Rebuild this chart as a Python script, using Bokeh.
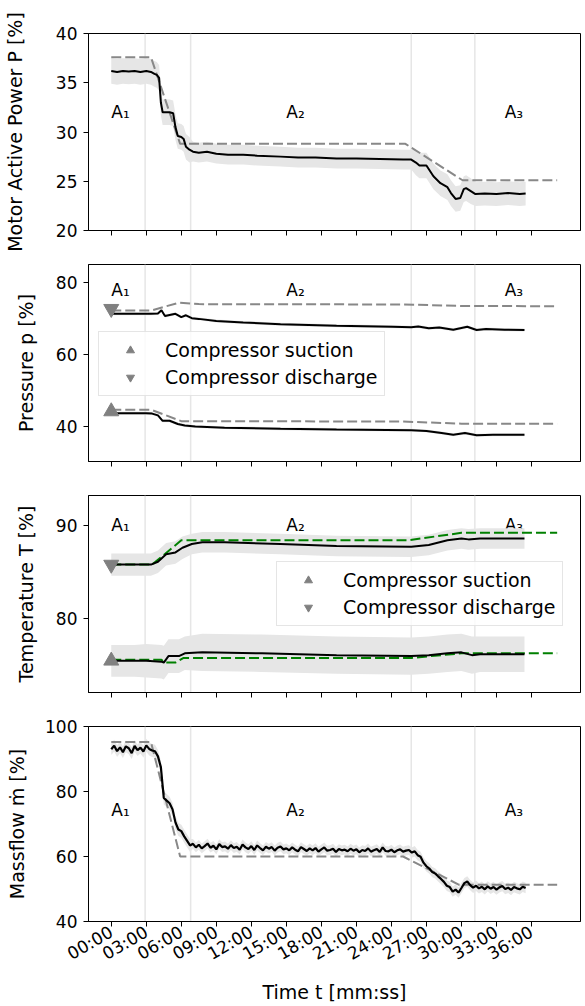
import math
import numpy as np
from bokeh.plotting import figure
from bokeh.layouts import column
from bokeh.models import FixedTicker, Span, Legend, LegendItem, Range1d
from bokeh.embed import file_html
from bokeh.resources import INLINE
from bokeh.core.properties import value

# ---------------- data ----------------
x_ticks = [0, 3, 6, 9, 12, 15, 18, 21, 24, 27, 30, 33, 36]
x_tick_labels = ["00:00", "03:00", "06:00", "09:00", "12:00", "15:00", "18:00",
                 "21:00", "24:00", "27:00", "30:00", "33:00", "36:00"]
phase_bounds = [2.9, 6.8, 25.7, 31.15]          # minutes (light vertical lines)
phase_names = ["A₁", "A₂", "A₃"]
phase_label_t = [0.0, 15.0, 33.7]

# Motor active power P [%]
p_t = [0, 0.5, 1, 1.5, 2, 2.5, 3, 3.4, 3.7, 3.9, 4.1, 4.25, 4.4, 5.0, 5.3, 5.5, 5.7, 6.0, 6.2,
       6.4, 6.7, 7.0, 7.5, 8.2, 9, 10, 11.3, 12.5, 14.5, 16, 17.5, 19.3, 21, 23, 25, 25.7, 26.1,
       26.4, 27.0, 27.6, 28.2, 28.8, 29.1, 29.5, 29.9, 30.2, 30.4, 30.8, 31.2, 32, 33, 34, 35, 35.5]
p_v = [36.2, 36.1, 36.2, 36.15, 36.2, 36.1, 36.2, 36.1, 35.9, 35.8, 35.5, 33.0, 32.0, 32.0, 31.9,
       30.5, 29.6, 29.5, 29.3, 28.5, 28.2, 28.0, 27.9, 28.0, 27.8, 27.7, 27.7, 27.6, 27.5, 27.4,
       27.4, 27.3, 27.3, 27.25, 27.2, 27.2, 26.9, 26.6, 26.6, 25.5, 24.8, 24.4, 23.8, 23.2, 23.3,
       24.2, 24.3, 24.0, 23.7, 23.75, 23.7, 23.8, 23.7, 23.75]
p_std_phase = [1.3, 1.3, 1.0, 1.3, 1.2]
p_ref_t = [0, 3.4, 5.9, 25.2, 30.1, 38.2]
p_ref_v = [37.6, 37.6, 28.8, 28.8, 25.1, 25.1]

# Pressure p [%]
pd_t = [0, 1, 2, 3, 3.4, 4.0, 4.3, 4.6, 5.2, 5.5, 6.0, 6.4, 6.9, 7.5, 9.0, 11.3, 14.5, 19.3,
        24.1, 25.7, 26.3, 27.2, 28.1, 29.3, 30.5, 31.3, 32.1, 33.7, 35.4]
pd_v = [71.2, 71.2, 71.2, 71.2, 71.2, 71.3, 72.2, 70.6, 71.0, 71.2, 70.3, 70.8, 70.0, 69.8,
        69.2, 68.8, 68.3, 67.9, 67.6, 67.5, 67.7, 67.2, 67.4, 66.8, 67.6, 66.7, 67.0, 66.8, 66.7]
pd_ref_t = [0, 3.4, 5.8, 7.5, 25.0, 30.0, 38.2]
pd_ref_v = [72.1, 72.1, 74.3, 73.9, 73.8, 73.4, 73.3]
ps_t = [0, 1, 2, 3, 3.5, 4.0, 4.4, 5.0, 5.7, 6.3, 7.2, 9.7, 14.5, 19.3, 25.7, 27.0, 28.3,
        29.3, 30.3, 31.3, 32.7, 35.4]
ps_v = [43.6, 43.6, 43.6, 43.6, 43.5, 43.0, 41.5, 41.5, 40.6, 40.2, 39.9, 39.6, 39.3, 39.1,
        38.9, 38.7, 38.1, 37.6, 38.1, 37.5, 37.6, 37.6]
ps_ref_t = [0, 3.4, 6.0, 25.0, 30.0, 38.2]
ps_ref_v = [44.6, 44.6, 41.4, 41.3, 40.7, 40.7]
pr_std_phase = [0.4, 0.4, 0.4, 0.4, 0.4]
pr_marker_v = [44.1, 72.6]   # suction, discharge start markers

# Temperature T [%]
td_t = [0, 1, 2, 3, 3.4, 4.0, 4.7, 5.5, 6.1, 6.9, 7.8, 9.7, 14.5, 19.3, 25.7, 27.2, 28.8,
        30.0, 30.6, 31.6, 33, 35.4]
td_v = [85.8, 85.8, 85.8, 85.8, 85.8, 86.1, 86.9, 87.1, 87.6, 88.0, 88.2, 88.2, 88.0, 87.8,
        87.7, 87.9, 88.4, 88.6, 88.5, 88.6, 88.6, 88.6]
td_ref_t = [0, 3.5, 6.0, 25.4, 30.0, 38.2]
td_ref_v = [85.8, 85.8, 88.4, 88.4, 89.2, 89.2]
td_std_phase = [1.2, 1.2, 1.1, 1.1, 1.1]
ts_t = [0, 1, 2, 3, 4.3, 4.5, 4.9, 5.8, 6.3, 7.8, 12.9, 19.3, 25.7, 27.2, 28.8, 30.0, 30.9,
        31.6, 35.4]
ts_v = [75.5, 75.5, 75.5, 75.5, 75.4, 75.3, 76.0, 76.0, 76.3, 76.4, 76.3, 76.1, 76.0, 76.1,
        76.3, 76.4, 76.1, 76.2, 76.2]
ts_ref_t = [0, 4.3, 4.6, 5.5, 6.2, 25.7, 30.0, 38.2]
ts_ref_v = [75.6, 75.6, 75.3, 75.3, 75.8, 75.8, 76.3, 76.3]
ts_std_phase = [1.7, 1.8, 2.0, 2.0, 1.9]
te_marker_v = [75.5, 85.8]

# Massflow m [%]  (sampled every 15 s)
mf_v = [93.0, 94.1, 92.4, 93.6, 92.1, 93.9, 93.3, 91.8, 94.0, 92.7, 93.5, 92.3, 94.2, 93.1, 92.6,
        92.4, 90.8, 87.5, 78.0, 77.2, 76.4, 74.5, 70.5, 68.3, 67.8, 66.2, 64.8, 63.4, 63.9,
        62.8, 63.6, 62.5, 63.2, 64.0, 62.7, 63.3, 62.2, 63.8, 62.9, 63.1, 62.4,
        63.5, 62.6, 63.0, 62.1, 63.7, 62.8, 62.3, 63.2, 62.0, 63.4, 62.6, 61.9, 63.0, 62.4, 62.9,
        61.8, 62.7, 63.1, 62.2, 62.5,
        61.9, 62.8, 62.1, 61.6, 62.9, 62.3, 61.7, 62.5, 61.9, 62.6, 61.5, 62.2, 62.8, 61.8, 62.0,
        62.4, 61.4, 62.3, 61.9, 62.1,
        61.6, 62.4, 61.8, 62.2, 61.3, 62.0, 61.7, 62.5, 61.5, 61.9, 62.3, 61.4, 62.8, 61.7, 61.6,
        62.1, 61.3, 61.9, 62.2, 61.5, 61.8, 62.0,
        61.2, 61.6, 60.4, 59.9, 58.1, 57.0, 56.3, 55.2, 54.8, 53.9, 53.1, 52.2, 51.0, 50.6, 49.2,
        49.8, 48.9, 50.3,
        51.8, 52.3, 51.2, 50.4, 51.0, 50.2, 50.7, 49.9, 50.8, 50.1, 50.6, 49.8, 50.5, 50.9, 50.0,
        50.4, 49.7, 50.6, 50.2, 49.9, 50.7, 50.3]
mf_t = list(np.arange(len(mf_v)) * 0.25)
mf_std_phase = [1.8, 2.0, 1.5, 1.6, 1.6]
mf_ref_t = [0, 3.4, 5.9, 25.0, 29.8, 38.2]
mf_ref_v = [95.2, 95.2, 60.0, 60.0, 51.3, 51.3]

# ---------------- styling ----------------
FONT = "DejaVu Sans"
BAND = "#e6e6e6"
REF_GRAY = "#888888"
GREEN = "#008000"
FRAME_H = 197
X_RANGE = (-1.95, 40.2)


def std_for(t, std_phase):
    idx = np.searchsorted(phase_bounds, np.asarray(t, dtype=float))
    return np.asarray(std_phase)[idx]


def make_panel(ylim, yticks, ylabel, top, bottom, label_v, label_standoff, show_x=False):
    p = figure(width=585, height=top + FRAME_H + bottom,
               x_range=Range1d(*X_RANGE), y_range=Range1d(*ylim),
               output_backend="svg", toolbar_location=None, title=None,
               min_border_left=87, min_border_right=5,
               min_border_top=top, min_border_bottom=bottom)
    p.outline_line_color = "black"
    p.outline_line_width = 1
    p.background_fill_color = "white"
    p.border_fill_color = "white"
    p.grid.visible = False

    p.xaxis.ticker = FixedTicker(ticks=x_ticks, minor_ticks=[])
    p.yaxis.ticker = FixedTicker(ticks=yticks, minor_ticks=[])
    for ax in (p.xaxis[0], p.yaxis[0]):
        ax.axis_line_color = "black"
        ax.axis_line_width = 1
        ax.major_tick_line_color = "black"
        ax.major_tick_out = 5
        ax.major_tick_in = 0
        ax.minor_tick_out = 0
        ax.minor_tick_in = 0
        ax.major_label_text_font = FONT
        ax.major_label_text_font_size = "17px"
        ax.major_label_text_color = "black"
        ax.axis_label_text_font = FONT
        ax.axis_label_text_font_size = "19px"
        ax.axis_label_text_font_style = "normal"
        ax.axis_label_text_color = "black"
    p.yaxis.axis_label = ylabel
    p.yaxis.major_label_standoff = 6
    p.yaxis.axis_label_standoff = label_standoff
    if show_x:
        p.xaxis.major_label_overrides = {t: s for t, s in zip(x_ticks, x_tick_labels)}
        p.xaxis.major_label_orientation = math.pi / 6
        p.xaxis.major_label_standoff = 4
        p.xaxis.axis_label = "Time t [mm:ss]"
        p.xaxis.axis_label_standoff = 6
    else:
        # tick marks only: labels are not painted
        p.xaxis.major_label_text_font_size = "1px"
        p.xaxis.major_label_text_color = None
        p.xaxis.major_label_standoff = 0

    for b in phase_bounds:
        sp = Span(location=b, dimension="height", line_color="#e6e6e6", line_width=1.5,
                  level="underlay")
        p.add_layout(sp)

    p.text(x=phase_label_t, y=[label_v] * 3, text=phase_names,
           text_font=value(FONT), text_font_size="17px", text_color="black",
           text_align="left", text_baseline="alphabetic")
    return p


def draw_series(p, t, v, std_phase, ref_t, ref_v, ref_color, lw=2):
    t = np.asarray(t, dtype=float)
    v = np.asarray(v, dtype=float)
    s = std_for(t, std_phase)
    p.varea(x=t, y1=v - s, y2=v + s, fill_color=BAND, fill_alpha=1.0)
    p.line(ref_t, ref_v, line_color=ref_color, line_width=2, line_dash="10 4")
    p.line(t, v, line_color="black", line_width=lw)


def add_markers_legend(p, marker_v, loc):
    r_up = p.scatter(x=[0], y=[marker_v[0]], marker="triangle", size=15,
                     fill_color="#808080", line_color="#808080")
    r_dn = p.scatter(x=[0], y=[marker_v[1]], marker="inverted_triangle", size=15,
                     fill_color="#808080", line_color="#808080")
    leg = Legend(items=[LegendItem(label="Compressor suction", renderers=[r_up]),
                        LegendItem(label="Compressor discharge", renderers=[r_dn])],
                 location=loc, margin=0, padding=7, spacing=5,
                 glyph_width=48, glyph_height=20, label_standoff=11,
                 label_text_font=FONT, label_text_font_size="19px",
                 label_text_color="black",
                 border_line_color="#cccccc", border_line_width=1,
                 background_fill_color="white", background_fill_alpha=0.8)
    p.add_layout(leg)


# Panel 1: motor active power
p1 = make_panel((20, 40), [20, 25, 30, 35, 40], "Motor Active Power P [%]",
                33, 26, 32.0, 27)
draw_series(p1, p_t, p_v, p_std_phase, p_ref_t, p_ref_v, REF_GRAY)

# Panel 2: pressure
p2 = make_panel((30.2, 84.9), [40, 60, 80], "Pressure p [%]", 8, 17, 77.7, 16)
draw_series(p2, pd_t, pd_v, pr_std_phase, pd_ref_t, pd_ref_v, REF_GRAY)
draw_series(p2, ps_t, ps_v, pr_std_phase, ps_ref_t, ps_ref_v, REF_GRAY)
add_markers_legend(p2, pr_marker_v, (10, 65))

# Panel 3: temperature
p3 = make_panel((72.1, 93.2), [80, 90], "Temperature T [%]", 17, 17, 90.0, 16)
draw_series(p3, td_t, td_v, td_std_phase, td_ref_t, td_ref_v, GREEN)
draw_series(p3, ts_t, ts_v, ts_std_phase, ts_ref_t, ts_ref_v, GREEN)
add_markers_legend(p3, te_marker_v, (188, 66))

# Panel 4: massflow
p4 = make_panel((40, 100), [40, 60, 80, 100], "Massflow ṁ [%]", 17, 83, 74.4, 14,
                show_x=True)
draw_series(p4, mf_t, mf_v, mf_std_phase, mf_ref_t, mf_ref_v, REF_GRAY, lw=2.2)

layout = column(p1, p2, p3, p4, spacing=0)
open("out.html", "w").write(file_html(layout, INLINE))
